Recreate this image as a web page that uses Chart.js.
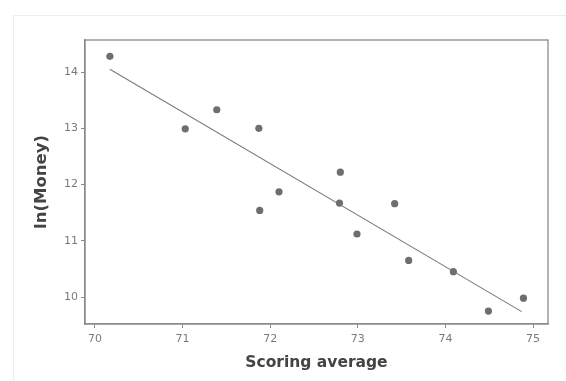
<!DOCTYPE html>
<html>
<head>
<meta charset="utf-8">
<script src="https://cdn.jsdelivr.net/npm/chart.js@4"></script>
<style>
html,body{margin:0;padding:0;background:#fff;}
#wrap{width:566px;height:381px;position:relative;}
</style>
</head>
<body>
<div id="wrap"><canvas id="c" width="566" height="381"></canvas></div>
<script>
// Data
const scoringAverage = [70.17, 71.03, 71.39, 71.87, 71.88, 72.10, 72.80, 72.79, 72.99, 73.42, 73.58, 74.09, 74.49, 74.89];
const lnMoney        = [14.28, 12.99, 13.33, 13.00, 11.54, 11.87, 12.22, 11.67, 11.12, 11.66, 10.65, 10.45, 9.75, 9.98];
// Fitted line endpoints as drawn
const fitX = [70.17, 74.87];
const fitY = [14.05, 9.74];
const xTicks = [70, 71, 72, 73, 74, 75];
const yTicks = [10, 11, 12, 13, 14];

const points = scoringAverage.map((x, i) => ({x: x, y: lnMoney[i]}));
const fitLine = fitX.map((x, i) => ({x: x, y: fitY[i]}));

const framePlugin = {
  id: 'frame',
  beforeDraw(chart) {
    const ctx = chart.ctx;
    ctx.save();
    ctx.strokeStyle = '#ececec';
    ctx.lineWidth = 1;
    ctx.beginPath();
    ctx.moveTo(13.5, 381);
    ctx.lineTo(13.5, 15.5);
    ctx.lineTo(566, 15.5);
    ctx.stroke();
    ctx.restore();
  },
  afterDatasetsDraw(chart) {
    const a = chart.chartArea;
    const ctx = chart.ctx;
    ctx.save();
    ctx.strokeStyle = '#8a8a8a';
    ctx.lineWidth = 1.3;
    ctx.strokeRect(a.left, a.top, a.right - a.left, a.bottom - a.top);
    ctx.restore();
  }
};

new Chart(document.getElementById('c'), {
  type: 'scatter',
  data: {
    datasets: [
      {
        label: 'ln(Money)',
        data: points,
        pointRadius: 3.6,
        pointBackgroundColor: '#6e6e6e',
        pointBorderColor: '#6e6e6e',
        pointBorderWidth: 0,
        showLine: false
      },
      {
        label: 'Fit',
        data: fitLine,
        showLine: true,
        pointRadius: 0,
        borderColor: '#7a7a7a',
        borderWidth: 1.1,
        fill: false
      }
    ]
  },
  plugins: [framePlugin],
  options: {
    responsive: false,
    animation: false,
    devicePixelRatio: 1,
    layout: { padding: { left: 0, top: 40, right: 18, bottom: 0 } },
    plugins: { legend: { display: false }, tooltip: { enabled: false } },
    scales: {
      x: {
        type: 'linear',
        min: 69.886,
        max: 75.17,
        afterBuildTicks: s => { s.ticks = xTicks.map(v => ({value: v})); },
        afterFit: s => { s.height = 57; },
        grid: { drawOnChartArea: false, drawTicks: true, tickLength: 4, color: '#8a8a8a' },
        border: { display: true, color: '#8a8a8a', width: 1.3 },
        ticks: { color: '#7a7a7a', font: { family: 'DejaVu Sans', size: 11 }, padding: 5 },
        title: { display: true, text: 'Scoring average', color: '#444', font: { family: 'DejaVu Sans', size: 15.5, weight: 'bold' }, padding: { top: 0, bottom: 8.7 } }
      },
      y: {
        type: 'linear',
        min: 9.52,
        max: 14.57,
        afterBuildTicks: s => { s.ticks = yTicks.map(v => ({value: v})); },
        afterFit: s => { s.width = 85; },
        grid: { drawOnChartArea: false, drawTicks: true, tickLength: 4, color: '#8a8a8a' },
        border: { display: true, color: '#8a8a8a', width: 1.3 },
        ticks: { color: '#7a7a7a', font: { family: 'DejaVu Sans', size: 11 }, padding: 3 },
        title: { display: true, text: 'ln(Money)', color: '#444', font: { family: 'DejaVu Sans', size: 16.5, weight: 'bold' }, padding: { top: 31.8, bottom: 0 } }
      }
    }
  }
});
</script>
</body>
</html>
